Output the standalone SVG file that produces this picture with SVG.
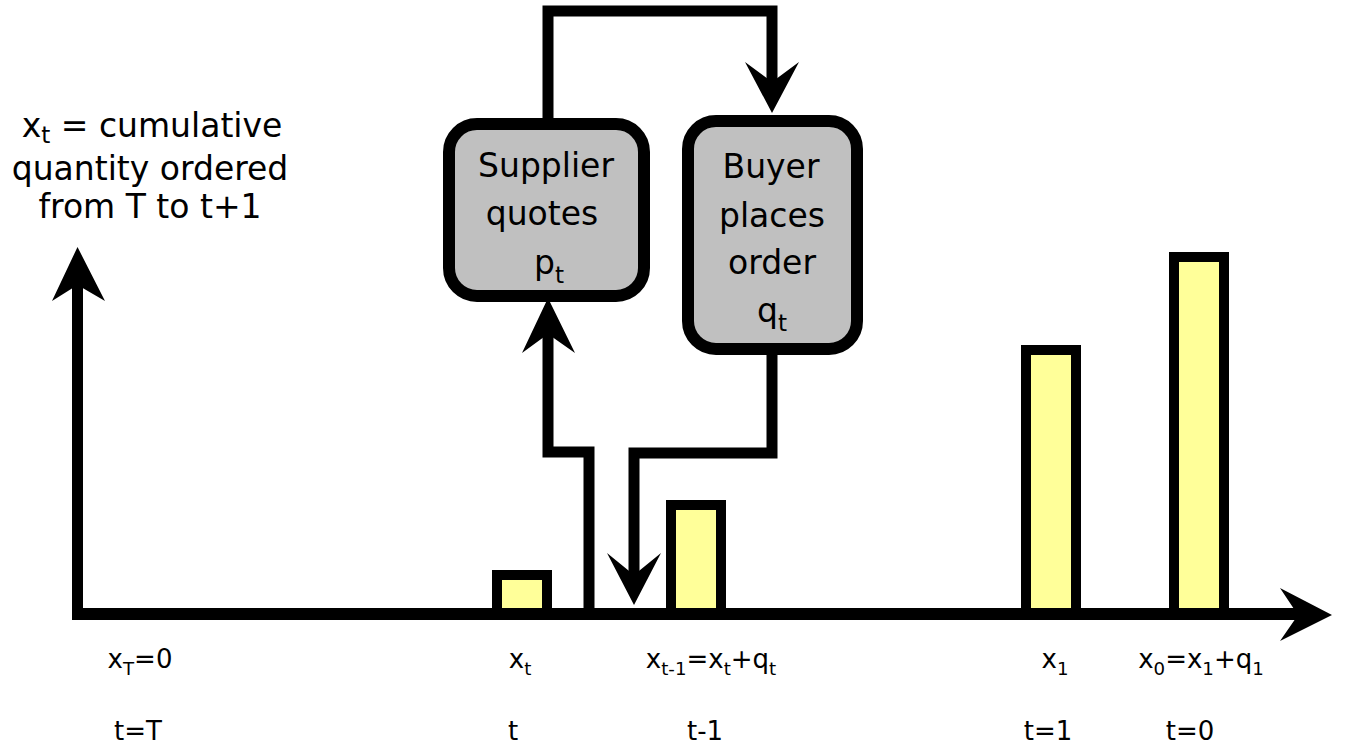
<svg xmlns="http://www.w3.org/2000/svg" width="1351" height="749" viewBox="0 0 1351 749">
<style>
  text { font-family: 'DejaVu Sans', 'Liberation Sans', sans-serif; fill: #000; }
  .big { font-size: 33px; }
  .lab { font-size: 26px; }
  .sub { font-size: 0.7em; }
  .box { fill: #c0c0c0; stroke: #000; stroke-width: 12; }
  .bar { fill: #ffff99; stroke: #000; stroke-width: 10; }
  .wire { fill: none; stroke: #000; stroke-width: 11; stroke-linejoin: miter; }
  .head { fill: #000; stroke: none; }
</style>
<rect x="0" y="0" width="1351" height="749" fill="#fff"/>

<g id="bars">
  <rect id="bar-xt" class="bar" x="497" y="575" width="50" height="40"/>
  <rect id="bar-xt1" class="bar" x="671" y="505" width="50" height="110"/>
  <rect id="bar-x1" class="bar" x="1026" y="350" width="50" height="265"/>
  <rect id="bar-x0" class="bar" x="1174" y="257" width="50" height="358"/>
</g>

<g id="axes">
  <path class="wire" d="M77.5,620 V280"/>
  <polygon class="head" points="77.5,247 105,301 77.5,285 52,301"/>
  <path class="wire" d="M72,614 H1305" style="stroke-width:12"/>
  <polygon class="head" points="1332,615 1280,641 1298,615 1280,588"/>
</g>

<g id="connectors">
  <path class="wire" d="M548,118 V11 H772 V85"/>
  <polygon class="head" points="772,113 745,62 772,82 799,62"/>
  <path class="wire" d="M589,609 V452 H548 V330"/>
  <polygon class="head" points="548,298 575,353 548,334 522,353"/>
  <path class="wire" d="M772,355 V453 H634 V580"/>
  <polygon class="head" points="634,605 607,553 634,575 661,553"/>
</g>

<g id="supplier">
  <rect class="box" x="449" y="124" width="195" height="172" rx="28" ry="28"/>
  <text class="big" text-anchor="middle" x="546" y="177">Supplier</text>
  <text class="big" text-anchor="middle" x="542" y="225">quotes</text>
  <text class="big" text-anchor="middle" x="549" y="274">p<tspan class="sub" dy="9">t</tspan></text>
</g>

<g id="buyer">
  <rect class="box" x="688" y="121" width="169" height="228" rx="28" ry="28"/>
  <text class="big" text-anchor="middle" x="771" y="178">Buyer</text>
  <text class="big" text-anchor="middle" x="772" y="227">places</text>
  <text class="big" text-anchor="middle" x="772" y="274">order</text>
  <text class="big" text-anchor="middle" x="772" y="322">q<tspan class="sub" dy="9">t</tspan></text>
</g>

<g id="ylabel">
  <text class="big" text-anchor="middle" x="152" y="137">x<tspan class="sub" dy="6">t</tspan><tspan dy="-6"> = cumulative</tspan></text>
  <text class="big" text-anchor="middle" x="150" y="180">quantity ordered</text>
  <text class="big" text-anchor="middle" x="150" y="218">from T to t+1</text>
</g>

<g id="labels">
  <text class="lab" text-anchor="middle" x="140" y="668">x<tspan class="sub" dy="7">T</tspan><tspan dy="-7">=0</tspan></text>
  <text class="lab" text-anchor="middle" x="138" y="740">t=T</text>
  <text class="lab" text-anchor="middle" x="520" y="668">x<tspan class="sub" dy="7">t</tspan></text>
  <text class="lab" text-anchor="middle" x="513" y="740">t</text>
  <text class="lab" text-anchor="middle" x="711" y="668">x<tspan class="sub" dy="7">t-1</tspan><tspan dy="-7">=x</tspan><tspan class="sub" dy="7">t</tspan><tspan dy="-7">+q</tspan><tspan class="sub" dy="7">t</tspan></text>
  <text class="lab" text-anchor="middle" x="705" y="740">t-1</text>
  <text class="lab" text-anchor="middle" x="1055" y="668">x<tspan class="sub" dy="7">1</tspan></text>
  <text class="lab" text-anchor="middle" x="1201" y="668">x<tspan class="sub" dy="7">0</tspan><tspan dy="-7">=x</tspan><tspan class="sub" dy="7">1</tspan><tspan dy="-7">+q</tspan><tspan class="sub" dy="7">1</tspan></text>
  <text class="lab" text-anchor="middle" x="1048" y="740">t=1</text>
  <text class="lab" text-anchor="middle" x="1190" y="740">t=0</text>
</g>
</svg>
